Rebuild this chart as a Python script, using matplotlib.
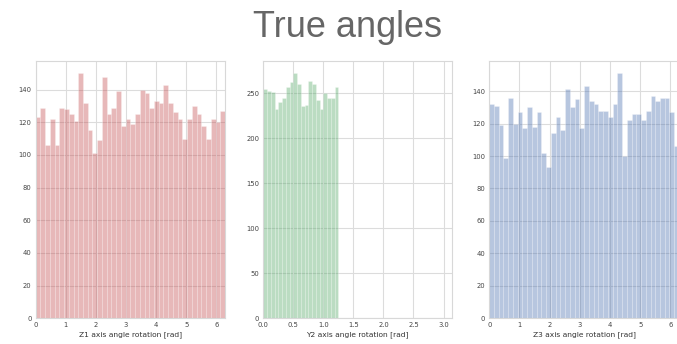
import numpy as np
import matplotlib
matplotlib.use("Agg")
import matplotlib.pyplot as plt
import seaborn as sns

# histogram counts per bin, read for each rotation angle
z1_counts = [123, 129, 106, 122, 106, 129, 128, 125, 121, 150,
             132, 115, 101, 109, 148, 125, 129, 139, 118, 122,
             119, 125, 140, 138, 129, 133, 132, 143, 132, 126,
             122, 110, 122, 130, 125, 118, 110, 122, 120, 127]
y2_counts = [254, 252, 251, 232, 240, 244, 257, 262, 272, 260,
             236, 237, 263, 260, 242, 232, 250, 245, 245, 257]
z3_counts = [132, 131, 119, 99, 136, 120, 127, 117, 130, 118,
             127, 102, 93, 114, 124, 116, 141, 130, 135, 117,
             143, 134, 132, 128, 128, 124, 132, 151, 100, 122,
             126, 126, 122, 128, 137, 134, 136, 136, 127, 106]

z1_edges = np.linspace(0, 2 * np.pi, len(z1_counts) + 1)
y2_edges = np.linspace(0, 1.25, len(y2_counts) + 1)
z3_edges = np.linspace(0, 2 * np.pi, len(z3_counts) + 1)

labels = ["Z1 axis angle rotation [rad]",
          "Y2 axis angle rotation [rad]",
          "Z3 axis angle rotation [rad]"]

sns.set_style("whitegrid")
plt.rcParams['font.family'] = ['DejaVu Sans']
pal = sns.color_palette("deep")

fig = plt.figure(figsize=(6.77, 3.44), dpi=100)
lefts = [0.0527, 0.389, 0.7227]
widths = [0.2796, 0.2787, 0.2802]

panels = [(z1_counts, z1_edges, pal[3], 2 * np.pi, np.arange(0, 7, 1), np.arange(0, 141, 20)),
          (y2_counts, y2_edges, pal[2], np.pi, np.arange(0, 3.01, 0.5), np.arange(0, 251, 50)),
          (z3_counts, z3_edges, pal[0], 2 * np.pi, np.arange(0, 7, 1), np.arange(0, 141, 20))]

for i, (counts, edges, col, xmax, xt, yt) in enumerate(panels):
    ax = fig.add_axes([lefts[i], 0.0747, widths[i], 0.748])
    ax.bar(edges[:-1], counts, width=np.diff(edges), align='edge',
           color=col, alpha=0.4, edgecolor='white', linewidth=0.4)
    ax.set_xlim(0, xmax)
    ax.set_ylim(0, max(counts) * 1.05)
    ax.set_xticks(xt)
    ax.set_yticks(yt)
    if i == 1:
        ax.set_xticklabels(["%.1f" % v for v in xt])
    ax.grid(True, color='#dcdcdc', linewidth=0.8)
    for s in ax.spines.values():
        s.set_color('#d8d8d8')
        s.set_linewidth(0.8)
    ax.tick_params(labelsize=4.9, colors='#444444', length=0, pad=3)
    ax.set_xlabel(labels[i], fontsize=5.4, color='#333333', labelpad=2)

fig.text(0.513, 0.892, "True angles", ha='center', va='baseline',
         fontsize=26, color='#666666', family='Liberation Sans')

fig.savefig("out.png", dpi=100)
